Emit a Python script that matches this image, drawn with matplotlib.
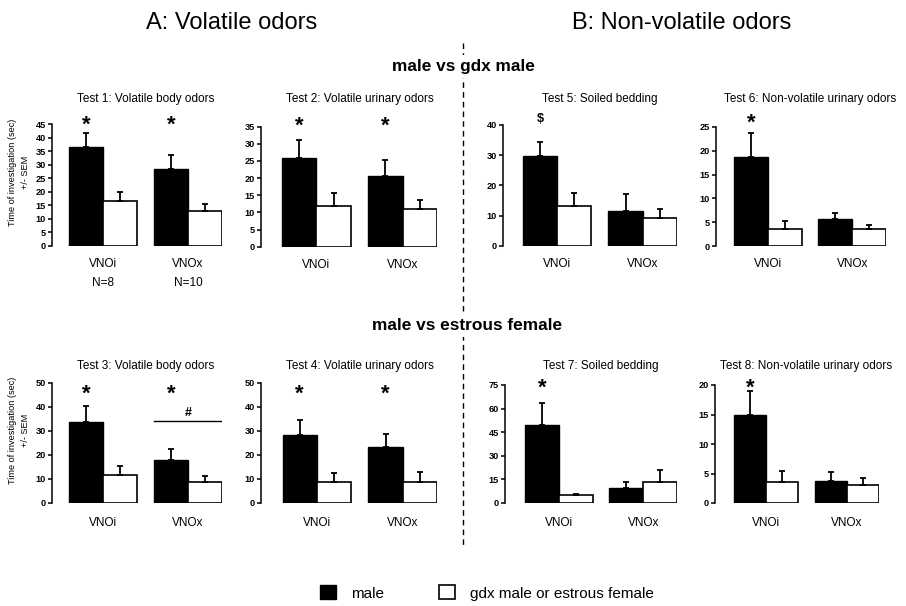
import matplotlib
matplotlib.use('Agg')
import matplotlib.pyplot as plt
from matplotlib.lines import Line2D
from matplotlib.patches import Patch
import numpy as np

plt.rcParams['font.family'] = ['Liberation Sans', 'DejaVu Sans']
plt.rcParams['lines.scale_dashes'] = False

W, H = 906, 606

# ---------------- data ----------------
groups = ['VNOi', 'VNOx']
group_labels_test1 = ['VNOi\nN=8', 'VNOx\nN=10']

test_titles = ['Test 1: Volatile body odors', 'Test 2: Volatile urinary odors',
               'Test 5: Soiled bedding', 'Test 6: Non-volatile urinary odors',
               'Test 3: Volatile body odors', 'Test 4: Volatile urinary odors',
               'Test 7: Soiled bedding', 'Test 8: Non-volatile urinary odors']

test1_male = [36.5, 28.3]; test1_male_sem = [5.2, 5.2]
test1_other = [16.6, 13.0]; test1_other_sem = [3.3, 2.6]
test2_male = [26.0, 20.6]; test2_male_sem = [5.1, 4.7]
test2_other = [12.0, 11.1]; test2_other_sem = [3.8, 2.4]
test5_male = [29.8, 11.6]; test5_male_sem = [4.7, 5.4]
test5_other = [13.3, 9.1]; test5_other_sem = [4.3, 2.9]
test6_male = [18.8, 5.6]; test6_male_sem = [4.9, 1.3]
test6_other = [3.5, 3.5]; test6_other_sem = [1.8, 0.9]
test3_male = [33.7, 18.1]; test3_male_sem = [6.6, 4.2]
test3_other = [11.8, 8.6]; test3_other_sem = [3.8, 2.5]
test4_male = [28.4, 23.5]; test4_male_sem = [6.3, 5.3]
test4_other = [8.6, 8.6]; test4_other_sem = [3.7, 4.5]
test7_male = [49.5, 9.8]; test7_male_sem = [13.8, 3.8]
test7_other = [4.9, 13.4]; test7_other_sem = [1.0, 7.6]
test8_male = [15.0, 3.8]; test8_male_sem = [4.0, 1.5]
test8_other = [3.5, 3.0]; test8_other_sem = [1.9, 1.2]

y_max = [45, 35, 40, 25, 50, 50, 75, 20]
y_step = [5, 5, 10, 5, 10, 10, 15, 5]

# significance symbols over the male bars (per panel: list of (group index, symbol))
sig_marks = [[(0, '*'), (1, '*')], [(0, '*'), (1, '*')], [(0, '$')], [(0, '*')],
             [(0, '*'), (1, '*')], [(0, '*'), (1, '*')], [(0, '*')], [(0, '*')]]
test3_bracket_y = 34.2
test3_bracket_sym_y = 37.5

male_all = [test1_male, test2_male, test5_male, test6_male,
            test3_male, test4_male, test7_male, test8_male]
male_sem_all = [test1_male_sem, test2_male_sem, test5_male_sem, test6_male_sem,
                test3_male_sem, test4_male_sem, test7_male_sem, test8_male_sem]
other_all = [test1_other, test2_other, test5_other, test6_other,
             test3_other, test4_other, test7_other, test8_other]
other_sem_all = [test1_other_sem, test2_other_sem, test5_other_sem, test6_other_sem,
                 test3_other_sem, test4_other_sem, test7_other_sem, test8_other_sem]

# ---------------- layout (pixels) ----------------
# left spine x, right x, top y, bottom y, xlim left, symbol height (axes fraction)
layout = [
    (51.7, 222, 124.3, 245.7, -0.51, 1.044),
    (261, 437, 126.7, 246.7, -0.61, 1.056),
    (503, 677, 125, 245.7, -0.58, 1.058),
    (716, 886, 127, 246, -0.53, 1.084),
    (51.7, 222, 383, 503, -0.51, 0.965),
    (261, 437, 383, 503, -0.63, 0.965),
    (505, 677, 385, 503, -0.59, 1.03),
    (715, 879, 385, 503, -0.59, 1.03),
]

fig = plt.figure(figsize=(W / 100, H / 100), dpi=100)

group_x0 = np.array([0.0, 2.5])

for i in range(8):
    l, r, t, b, xl, sig_h = layout[i]
    ax = fig.add_axes([l / W, 1 - b / H, (r - l) / W, (b - t) / H])
    male = np.array(male_all[i]); other = np.array(other_all[i])
    msem = np.array(male_sem_all[i]); osem = np.array(other_sem_all[i])
    xm = group_x0 + 0.5
    xo = group_x0 + 1.5
    ax.bar(xm, male, width=1.0, color='black', edgecolor='black', linewidth=1.0, zorder=2)
    ax.bar(xo, other, width=1.0, color='white', edgecolor='black', linewidth=1.2, zorder=2)
    ax.errorbar(xm, male, yerr=[np.zeros(2), msem], fmt='none', ecolor='black',
                elinewidth=1.3, capsize=2.2, capthick=1.3, zorder=3, clip_on=False)
    ax.errorbar(xo, other, yerr=[np.zeros(2), osem], fmt='none', ecolor='black',
                elinewidth=1.3, capsize=2.2, capthick=1.3, zorder=3, clip_on=False)
    ax.set_xlim(xl, 4.5)
    ax.set_ylim(0, y_max[i])
    ax.set_yticks(np.arange(0, y_max[i] + 0.01, y_step[i]))
    for s in ['top', 'right', 'bottom']:
        ax.spines[s].set_visible(False)
    ax.spines['left'].set_linewidth(1.1)
    ax.tick_params(axis='y', direction='out', length=3, width=1.1, pad=1.2, labelsize=6.6)
    for lab in ax.get_yticklabels():
        lab.set_fontweight('bold')
    ax.set_xticks(group_x0 + 1.0)
    upper = i < 4
    ax.set_xticklabels(group_labels_test1 if i == 0 else groups, fontsize=8.5,
                       linespacing=1.75)
    ax.tick_params(axis='x', length=0, pad=8.7 if upper else 10.0)
    ax.patch.set_visible(False)
    # title
    ax.text(2.25, (t - (102 if upper else 369)) / (b - t) + 1.0, test_titles[i],
            transform=ax.get_xaxis_transform(), ha='center', va='baseline', fontsize=8.5)
    # significance symbols
    for gi, sym in sig_marks[i]:
        fs = 16 if sym == '*' else 9
        ax.annotate(sym, xy=(group_x0[gi] + 0.5, sig_h), xycoords=ax.get_xaxis_transform(),
                    xytext=(0, -0.3 * fs if sym == '*' else -0.1 * fs),
                    textcoords='offset points', ha='center', va='center',
                    fontsize=fs, fontweight='bold', annotation_clip=False)
    if i == 4:
        ax.plot([group_x0[1], group_x0[1] + 2.0], [test3_bracket_y] * 2, color='black', lw=1.0)
        ax.text(group_x0[1] + 1.0, test3_bracket_sym_y, '#', ha='center', va='center',
                fontsize=9, fontweight='bold')
    if i in (0, 4):
        ax.text(-0.19, 0.607, 'Time of investigation (sec)\n+/- SEM', transform=ax.transAxes,
                rotation=90, ha='center', va='center', multialignment='center',
                fontsize=6.6, linespacing=1.6)

# dashed divider
fig.add_artist(Line2D([463 / W, 463 / W], [1 - 43 / H, 1 - 547 / H], color='black',
                      lw=1.0, dashes=(4, 3), transform=fig.transFigure, zorder=1))

# headings
fig.text(232 / W, 1 - 29 / H, 'A: Volatile odors', ha='center', va='baseline', fontsize=17)
fig.text(682 / W, 1 - 29 / H, 'B: Non-volatile odors', ha='center', va='baseline', fontsize=17)
fig.text(463 / W, 1 - 70.7 / H, 'male vs gdx male', ha='center', va='baseline', fontsize=12.4,
         fontweight='bold', zorder=3,
         bbox=dict(facecolor='white', edgecolor='none', pad=3))
fig.text(467 / W, 1 - 330 / H, 'male vs estrous female', ha='center', va='baseline',
         fontsize=12.4, fontweight='bold', zorder=3,
         bbox=dict(facecolor='white', edgecolor='none', pad=3))

# legend
handles = [Patch(facecolor='black', edgecolor='black', linewidth=1.0),
           Patch(facecolor='white', edgecolor='black', linewidth=1.2)]
fig.legend(handles=handles, labels=['male', 'gdx male or estrous female'], ncol=2,
           loc='center', bbox_to_anchor=(487 / W, 1 - 593 / H), frameon=False, fontsize=11,
           handlelength=1.05, handleheight=1.0, handletextpad=1.0, columnspacing=3.6,
           borderpad=0, borderaxespad=0)

fig.savefig('out.png', dpi=100)
